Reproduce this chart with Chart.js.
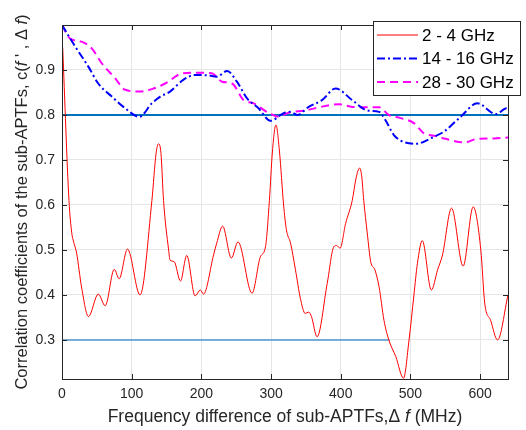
<!DOCTYPE html>
<html>
<head>
<meta charset="utf-8">
<script src="https://cdn.jsdelivr.net/npm/chart.js@4.4.0/dist/chart.umd.min.js"></script>
<style>
  html, body { margin: 0; padding: 0; background: #fff; }
</style>
</head>
<body>
<canvas id="chart" width="526" height="430"></canvas>
<script>
// axis ticks
const xTicks = [0, 100, 200, 300, 400, 500, 600];
const yTicks = [0.3, 0.4, 0.5, 0.6, 0.7, 0.8, 0.9];

const seriesNames = ["2 - 4 GHz", "14 - 16 GHz", "28 - 30 GHz"];

// 2 - 4 GHz
const lowBandX = [1, 10, 14, 16, 21, 28, 38, 52, 62, 75, 82, 94, 112, 129, 135, 138.5, 142, 145.7, 153, 155, 161, 170, 179, 191, 198.5, 203, 217.5, 222, 230.5, 243, 252.6, 272.7, 284.7, 292, 297.6, 302, 307, 312, 318, 322, 328, 335, 342, 349, 354, 358, 366, 380.6, 390, 394, 399, 407, 416.5, 422, 427, 430, 433, 438, 443, 449, 455, 462, 469, 479, 490, 498, 505, 510, 517, 530, 539, 546, 559, 575.6, 590, 601, 606.6, 615, 625, 640];
const lowBandY = [0.95, 0.61, 0.538, 0.522, 0.493, 0.418, 0.352, 0.402, 0.376, 0.457, 0.436, 0.502, 0.40, 0.61, 0.715, 0.736, 0.715, 0.61, 0.50, 0.478, 0.474, 0.431, 0.488, 0.398, 0.411, 0.402, 0.489, 0.515, 0.553, 0.482, 0.518, 0.404, 0.485, 0.507, 0.61, 0.72, 0.778, 0.72, 0.60, 0.545, 0.515, 0.456, 0.393, 0.359, 0.362, 0.352, 0.307, 0.426, 0.507, 0.510, 0.504, 0.559, 0.61, 0.66, 0.682, 0.665, 0.61, 0.538, 0.474, 0.456, 0.418, 0.344, 0.30, 0.263, 0.215, 0.30, 0.40, 0.47, 0.521, 0.411, 0.456, 0.489, 0.593, 0.464, 0.596, 0.50, 0.382, 0.344, 0.30, 0.40];

// 14 - 16 GHz
const midBandX = [0, 19, 38, 52, 71.5, 90.6, 111, 129, 141, 155, 174, 191, 210, 222, 237, 251, 265.6, 282, 299, 318, 328, 337.5, 354, 373, 392.5, 416.5, 438, 455, 464, 476, 486, 507.5, 534, 548, 572, 596, 622.6, 638, 640];
const midBandY = [1.0, 0.952, 0.907, 0.870, 0.841, 0.815, 0.796, 0.826, 0.841, 0.852, 0.878, 0.889, 0.888, 0.885, 0.898, 0.874, 0.837, 0.815, 0.787, 0.804, 0.807, 0.800, 0.818, 0.833, 0.859, 0.833, 0.810, 0.807, 0.789, 0.756, 0.743, 0.736, 0.752, 0.763, 0.796, 0.826, 0.802, 0.815, 0.812];

// 28 - 30 GHz
const highBandX = [0, 11.5, 28, 42.7, 57, 76, 90.6, 112, 130, 148, 174, 196, 215, 229.6, 244, 260.7, 275, 294, 311, 325, 349, 368.5, 397, 416.5, 435.6, 455, 469, 486, 505, 519.5, 534, 550.7, 577, 596, 620, 640];
const highBandY = [1.0, 0.970, 0.963, 0.948, 0.915, 0.882, 0.856, 0.852, 0.858, 0.870, 0.893, 0.894, 0.893, 0.874, 0.870, 0.833, 0.826, 0.807, 0.796, 0.805, 0.810, 0.817, 0.824, 0.818, 0.817, 0.817, 0.800, 0.793, 0.782, 0.759, 0.754, 0.747, 0.739, 0.747, 0.748, 0.750];

// threshold lines
const upperLimitX = [0, 640];
const upperLimitY = [0.8, 0.8];
const lowerLimitX = [0, 470];
const lowerLimitY = [0.3, 0.3];

const toPoints = (xs, ys) => xs.map((x, i) => ({ x, y: ys[i] }));

const FONT = "'Liberation Sans', Arial, Helvetica, sans-serif";
const AXIS_COLOR = "#262626";

const lineStyles = [
  { color: "#ff0000", width: 1, dash: [] },
  { color: "#0000ff", width: 2, dash: [8, 3, 2, 3] },
  { color: "#ff00ff", width: 2, dash: [8, 5] },
];

// draws text made of plain and italic runs, centred on (cx, cy)
function drawRichText(ctx, parts, cx, cy, size, angle) {
  ctx.save();
  ctx.translate(cx, cy);
  ctx.rotate(angle);
  ctx.textBaseline = "middle";
  ctx.textAlign = "left";
  ctx.fillStyle = AXIS_COLOR;
  const widths = parts.map((p) => {
    ctx.font = (p.italic ? "italic " : "") + size + "px " + FONT;
    return ctx.measureText(p.t).width;
  });
  let x = -widths.reduce((a, b) => a + b, 0) / 2;
  parts.forEach((p, i) => {
    ctx.font = (p.italic ? "italic " : "") + size + "px " + FONT;
    ctx.fillText(p.t, x, 0);
    x += widths[i];
  });
  ctx.restore();
}

const frame = {
  id: "frame",
  afterDatasetsDraw(chart) {
    const { ctx, chartArea: a, scales } = chart;
    ctx.save();
    ctx.strokeStyle = AXIS_COLOR;
    ctx.lineWidth = 1;
    ctx.beginPath();
    xTicks.forEach((v) => {
      const px = Math.round(scales.x.getPixelForValue(v)) + 0.5;
      ctx.moveTo(px, a.bottom); ctx.lineTo(px, a.bottom - 5);
      ctx.moveTo(px, a.top); ctx.lineTo(px, a.top + 5);
    });
    yTicks.forEach((v) => {
      const py = Math.round(scales.y.getPixelForValue(v)) + 0.5;
      ctx.moveTo(a.left, py); ctx.lineTo(a.left + 5, py);
      ctx.moveTo(a.right, py); ctx.lineTo(a.right - 5, py);
    });
    ctx.stroke();
    ctx.strokeRect(Math.round(a.left) + 0.5, Math.round(a.top) + 0.5,
      Math.round(a.right - a.left), Math.round(a.bottom - a.top));
    ctx.restore();

    drawRichText(ctx, [
      { t: "Frequency difference of sub-APTFs,\u0394 " },
      { t: "f", italic: true },
      { t: " (MHz)" },
    ], (a.left + a.right) / 2, 417, 17.5, 0);

    drawRichText(ctx, [
      { t: "Correlation coefficients of the sub-APTFs, c(" },
      { t: "f", italic: true },
      { t: " ' , \u0394 " },
      { t: "f", italic: true },
      { t: ")" },
    ], 22, (a.top + a.bottom) / 2, 16.5, -Math.PI / 2);
  },
  afterDraw(chart) {
    const { ctx } = chart;
    const box = { left: 373, top: 21, width: 147, height: 74 };
    ctx.save();
    ctx.fillStyle = "#fff";
    ctx.fillRect(box.left, box.top, box.width, box.height);
    ctx.strokeStyle = AXIS_COLOR;
    ctx.lineWidth = 1;
    ctx.strokeRect(box.left + 0.5, box.top + 0.5, box.width, box.height);
    ctx.font = "17px " + FONT;
    ctx.textBaseline = "middle";
    ctx.fillStyle = "#000";
    seriesNames.forEach((name, i) => {
      const y = box.top + 14 + i * 23.5;
      const s = lineStyles[i];
      ctx.beginPath();
      ctx.strokeStyle = s.color;
      ctx.lineWidth = s.width;
      ctx.setLineDash(s.dash);
      ctx.moveTo(box.left + 4, y);
      ctx.lineTo(box.left + 45, y);
      ctx.stroke();
      ctx.setLineDash([]);
      ctx.fillText(name, box.left + 49, y + 1);
    });
    ctx.restore();
  },
};

const bandData = [
  toPoints(lowBandX, lowBandY),
  toPoints(midBandX, midBandY),
  toPoints(highBandX, highBandY),
];

const datasets = bandData.map((pts, i) => ({
  label: seriesNames[i],
  data: pts,
  borderColor: lineStyles[i].color,
  borderWidth: lineStyles[i].width,
  borderDash: lineStyles[i].dash,
  pointRadius: 0,
  fill: false,
  cubicInterpolationMode: "monotone",
}));

datasets.push({
  label: "upper",
  data: toPoints(upperLimitX, upperLimitY),
  borderColor: "#0072bd",
  borderWidth: 2,
  pointRadius: 0,
});
datasets.push({
  label: "lower",
  data: toPoints(lowerLimitX, lowerLimitY),
  borderColor: "#4d94cc",
  borderWidth: 1.5,
  pointRadius: 0,
});

new Chart(document.getElementById("chart"), {
  type: "line",
  data: { datasets },
  options: {
    responsive: false,
    animation: false,
    layout: { padding: { top: 25, right: 18, left: 0, bottom: 0 } },
    plugins: { legend: { display: false }, tooltip: { enabled: false } },
    scales: {
      x: {
        type: "linear",
        min: 0,
        max: 640,
        afterBuildTicks: (scale) => { scale.ticks = xTicks.map((value) => ({ value })); },
        afterFit: (scale) => { scale.height = 51; },
        ticks: { font: { family: FONT, size: 14 }, color: AXIS_COLOR, padding: 7, maxRotation: 0 },
        grid: { color: "#e6e6e6", drawTicks: false },
        border: { display: false },
      },
      y: {
        type: "linear",
        min: 0.2133,
        max: 1.0,
        afterBuildTicks: (scale) => { scale.ticks = yTicks.map((value) => ({ value })); },
        afterFit: (scale) => { scale.width = 62; },
        ticks: { font: { family: FONT, size: 14 }, color: AXIS_COLOR, padding: 7, callback: (v) => v.toFixed(1) },
        grid: { color: "#e6e6e6", drawTicks: false },
        border: { display: false },
      },
    },
  },
  plugins: [frame],
});
</script>
</body>
</html>
